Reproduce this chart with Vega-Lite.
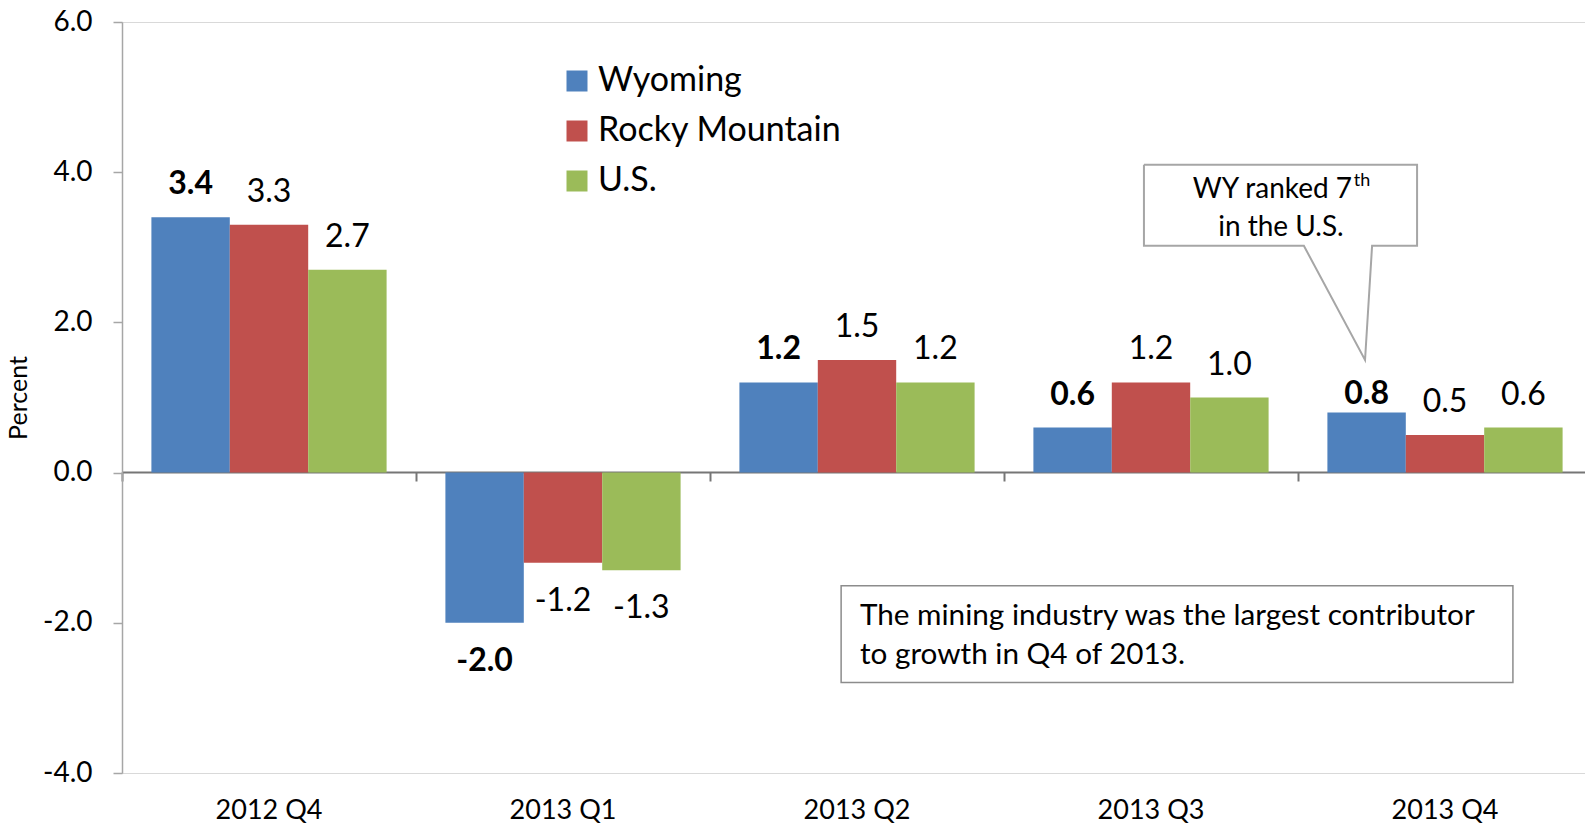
{
  "$schema": "https://vega.github.io/schema/vega-lite/v6.json",
  "width": 1463,
  "height": 751,
  "autosize": {"type": "none"},
  "padding": {"left": 122, "top": 22, "right": 0, "bottom": 51},
  "background": "white",
  "config": {
    "view": {"stroke": null},
    "font": "Lato",
    "text": {"font": "Lato", "color": "#000000"},
    "axis": {"labelFont": "Lato", "titleFont": "Lato", "labelColor": "#000000", "titleColor": "#000000"}
  },
  "datasets": {
    "growth": [
      {"quarter": "2012 Q4", "series": "Wyoming", "value": 3.4},
      {"quarter": "2012 Q4", "series": "Rocky Mountain", "value": 3.3},
      {"quarter": "2012 Q4", "series": "U.S.", "value": 2.7},
      {"quarter": "2013 Q1", "series": "Wyoming", "value": -2.0},
      {"quarter": "2013 Q1", "series": "Rocky Mountain", "value": -1.2},
      {"quarter": "2013 Q1", "series": "U.S.", "value": -1.3},
      {"quarter": "2013 Q2", "series": "Wyoming", "value": 1.2},
      {"quarter": "2013 Q2", "series": "Rocky Mountain", "value": 1.5},
      {"quarter": "2013 Q2", "series": "U.S.", "value": 1.2},
      {"quarter": "2013 Q3", "series": "Wyoming", "value": 0.6},
      {"quarter": "2013 Q3", "series": "Rocky Mountain", "value": 1.2},
      {"quarter": "2013 Q3", "series": "U.S.", "value": 1.0},
      {"quarter": "2013 Q4", "series": "Wyoming", "value": 0.8},
      {"quarter": "2013 Q4", "series": "Rocky Mountain", "value": 0.5},
      {"quarter": "2013 Q4", "series": "U.S.", "value": 0.6}
    ],
    "callout": [
      {"i": 0, "x": 3.476, "y": 4.10},
      {"i": 1, "x": 4.405, "y": 4.10},
      {"i": 2, "x": 4.405, "y": 3.02},
      {"i": 3, "x": 4.252, "y": 3.02},
      {"i": 4, "x": 4.228, "y": 1.50},
      {"i": 5, "x": 4.020, "y": 3.02},
      {"i": 6, "x": 3.476, "y": 3.02},
      {"i": 7, "x": 3.476, "y": 4.10}
    ],
    "calloutText": [
      {"part": "main", "text": "WY ranked 7", "x": 4.184, "y": 3.66},
      {"part": "sup", "text": "th", "x": 4.19, "y": 3.81},
      {"part": "line2", "text": "in the U.S.", "x": 3.942, "y": 3.156}
    ],
    "box": [
      {"x1": 2.446, "x2": 4.731, "y1": -1.505, "y2": -2.796}
    ],
    "boxText": [
      {"text": "The mining industry was the largest contributor", "x": 2.51, "y": -2.024},
      {"text": "to growth in Q4 of 2013.", "x": 2.51, "y": -2.543}
    ]
  },
  "layer": [
    {
      "data": {"name": "growth"},
      "transform": [
        {"calculate": "(datum.value < 0 ? '-' : '') + format(abs(datum.value), '.1f')", "as": "label"}
      ],
      "layer": [
        {
          "mark": {"type": "bar"},
          "encoding": {
            "x": {
              "field": "quarter", "type": "nominal", "sort": null,
              "scale": {"range": [0, 1470], "paddingInner": 0.2, "paddingOuter": 0.1},
              "axis": {
                "orient": "bottom", "title": null, "domain": false, "ticks": false,
                "labelAngle": 0, "labelFontSize": 27, "labelPadding": 24
              }
            },
            "xOffset": {
              "field": "series", "type": "nominal",
              "scale": {"domain": ["Wyoming", "Rocky Mountain", "U.S."], "paddingInner": 0, "paddingOuter": 0}
            },
            "y": {
              "field": "value", "type": "quantitative",
              "scale": {"domain": [-4, 6], "nice": false, "zero": false},
              "axis": {
                "orient": "left",
                "title": "Percent", "titleFontSize": 25, "titleFontWeight": "normal", "titlePadding": 11,
                "values": [-4, -2, 0, 2, 4, 6],
                "labelExpr": "(datum.value < 0 ? '-' : '') + format(abs(datum.value), '.1f')",
                "labelFontSize": 28, "labelPadding": 21,
                "domainColor": "#A6A6A6", "domainWidth": 1.5,
                "tickColor": "#A6A6A6", "tickSize": 9, "tickWidth": 1.5,
                "grid": false
              }
            },
            "color": {
              "field": "series", "type": "nominal",
              "scale": {"domain": ["Wyoming", "Rocky Mountain", "U.S."], "range": ["#4F81BD", "#C0504D", "#9BBB59"]},
              "legend": {
                "title": null, "orient": "none", "legendX": 438, "legendY": 42, "direction": "vertical",
                "symbolType": "square", "symbolSize": 441, "symbolStrokeWidth": 0,
                "labelFont": "Lato", "labelFontSize": 34, "labelColor": "#000000", "labelLimit": 500,
                "rowPadding": 16, "labelOffset": 4, "padding": 0, "offset": 0
              }
            }
          }
        },
        {
          "transform": [{"filter": "datum.series === 'Wyoming' && datum.value >= 0 && datum.quarter !== '2013 Q4'"}],
          "mark": {"type": "text", "fontSize": 32, "fontWeight": "bold", "baseline": "alphabetic", "align": "center", "dy": -23},
          "encoding": {
            "x": {
              "field": "quarter", "type": "nominal", "sort": null,
              "axis": {
                "orient": "top", "offset": -450, "title": null, "labels": false,
                "domainColor": "#767676", "domainWidth": 2,
                "tickColor": "#767676", "tickWidth": 2, "tickSize": -9, "bandPosition": 0, "tickOffset": -29.4
              }
            },
            "xOffset": {"field": "series", "type": "nominal", "scale": {"domain": ["Wyoming", "Rocky Mountain", "U.S."]}},
            "y": {
              "field": "value", "type": "quantitative",
              "axis": {
                "orient": "right", "values": [-4, 6], "title": null, "labels": false, "ticks": false, "domain": false,
                "grid": true, "gridColor": "#D9D9D9", "gridWidth": 1
              }
            },
            "text": {"field": "label", "type": "nominal"}
          }
        },
        {
          "transform": [{"filter": "datum.series === 'Wyoming' && datum.quarter === '2013 Q4'"}],
          "mark": {"type": "text", "fontSize": 32, "fontWeight": "bold", "baseline": "alphabetic", "align": "center", "dy": -9},
          "encoding": {
            "x": {"field": "quarter", "type": "nominal", "sort": null, "axis": null},
            "xOffset": {"field": "series", "type": "nominal", "scale": {"domain": ["Wyoming", "Rocky Mountain", "U.S."]}},
            "y": {"field": "value", "type": "quantitative", "axis": null},
            "text": {"field": "label", "type": "nominal"}
          }
        },
        {
          "transform": [{"filter": "datum.series === 'Wyoming' && datum.value < 0"}],
          "mark": {"type": "text", "fontSize": 32, "fontWeight": "bold", "baseline": "alphabetic", "align": "center", "dy": 48},
          "encoding": {
            "x": {"field": "quarter", "type": "nominal", "sort": null, "axis": null},
            "xOffset": {"field": "series", "type": "nominal", "scale": {"domain": ["Wyoming", "Rocky Mountain", "U.S."]}},
            "y": {"field": "value", "type": "quantitative", "axis": null},
            "text": {"field": "label", "type": "nominal"}
          }
        },
        {
          "transform": [{"filter": "datum.series !== 'Wyoming' && datum.value >= 0"}],
          "mark": {"type": "text", "fontSize": 32, "fontWeight": "normal", "baseline": "alphabetic", "align": "center", "dy": -23},
          "encoding": {
            "x": {"field": "quarter", "type": "nominal", "sort": null, "axis": null},
            "xOffset": {"field": "series", "type": "nominal", "scale": {"domain": ["Wyoming", "Rocky Mountain", "U.S."]}},
            "y": {"field": "value", "type": "quantitative", "axis": null},
            "text": {"field": "label", "type": "nominal"}
          }
        },
        {
          "transform": [{"filter": "datum.series !== 'Wyoming' && datum.value < 0"}],
          "mark": {"type": "text", "fontSize": 32, "fontWeight": "normal", "baseline": "alphabetic", "align": "center", "dy": 48},
          "encoding": {
            "x": {"field": "quarter", "type": "nominal", "sort": null, "axis": null},
            "xOffset": {"field": "series", "type": "nominal", "scale": {"domain": ["Wyoming", "Rocky Mountain", "U.S."]}},
            "y": {"field": "value", "type": "quantitative", "axis": null},
            "text": {"field": "label", "type": "nominal"}
          }
        }
      ]
    },
    {
      "layer": [
        {
          "data": {"name": "callout"},
          "mark": {"type": "line", "stroke": "#A6A6A6", "strokeWidth": 2},
          "encoding": {
            "x": {"field": "x", "type": "quantitative", "scale": {"domain": [0, 5], "range": [0, 1470], "nice": false, "zero": false}, "axis": null},
            "y": {"field": "y", "type": "quantitative", "scale": {"domain": [-4, 6], "nice": false, "zero": false}, "axis": null},
            "order": {"field": "i", "type": "quantitative"}
          }
        },
        {
          "data": {"name": "calloutText"},
          "transform": [{"filter": "datum.part === 'main'"}],
          "mark": {"type": "text", "fontSize": 28, "align": "right", "baseline": "alphabetic"},
          "encoding": {
            "x": {"field": "x", "type": "quantitative", "axis": null},
            "y": {"field": "y", "type": "quantitative", "axis": null},
            "text": {"field": "text", "type": "nominal"}
          }
        },
        {
          "data": {"name": "calloutText"},
          "transform": [{"filter": "datum.part === 'sup'"}],
          "mark": {"type": "text", "fontSize": 18, "align": "left", "baseline": "alphabetic"},
          "encoding": {
            "x": {"field": "x", "type": "quantitative", "axis": null},
            "y": {"field": "y", "type": "quantitative", "axis": null},
            "text": {"field": "text", "type": "nominal"}
          }
        },
        {
          "data": {"name": "calloutText"},
          "transform": [{"filter": "datum.part === 'line2'"}],
          "mark": {"type": "text", "fontSize": 28, "align": "center", "baseline": "alphabetic"},
          "encoding": {
            "x": {"field": "x", "type": "quantitative", "axis": null},
            "y": {"field": "y", "type": "quantitative", "axis": null},
            "text": {"field": "text", "type": "nominal"}
          }
        },
        {
          "data": {"name": "box"},
          "mark": {"type": "rect", "fill": null, "stroke": "#8C8C8C", "strokeWidth": 1.5},
          "encoding": {
            "x": {"field": "x1", "type": "quantitative", "axis": null},
            "x2": {"field": "x2"},
            "y": {"field": "y1", "type": "quantitative", "axis": null},
            "y2": {"field": "y2"}
          }
        },
        {
          "data": {"name": "boxText"},
          "mark": {"type": "text", "fontSize": 29.7, "align": "left", "baseline": "alphabetic"},
          "encoding": {
            "x": {"field": "x", "type": "quantitative", "axis": null},
            "y": {"field": "y", "type": "quantitative", "axis": null},
            "text": {"field": "text", "type": "nominal"}
          }
        }
      ]
    }
  ]
}
